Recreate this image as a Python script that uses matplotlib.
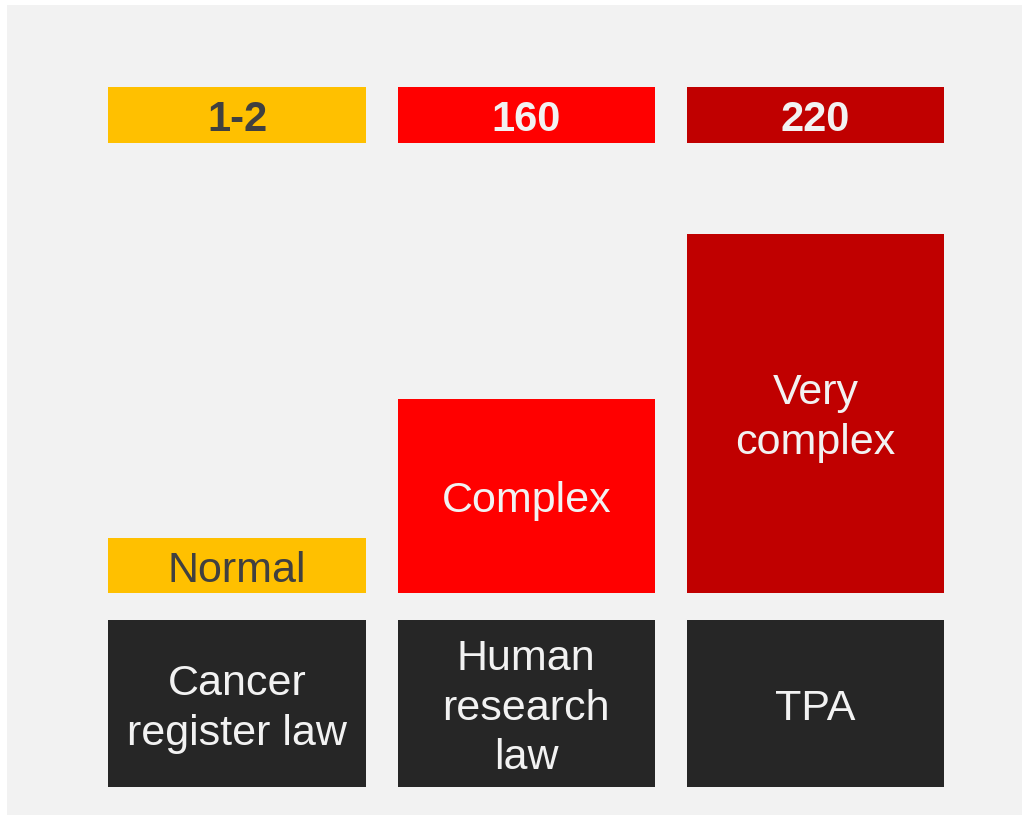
import matplotlib.pyplot as plt
from matplotlib.patches import Rectangle

plt.rcParams['font.family'] = ['Liberation Sans', 'DejaVu Sans']

laws = ['Cancer\nregister law', 'Human\nresearch\nlaw', 'TPA']
levels = ['Normal', 'Complex', 'Very\ncomplex']
counts = ['1-2', '160', '220']
complexity = [1.0, 3.5, 6.5]
colors = ['#FFC000', '#FF0000', '#C00000']
count_text = ['#404040', '#F2F2F2', '#F2F2F2']
level_text = ['#404040', '#F2F2F2', '#F2F2F2']

fig = plt.figure(figsize=(10.28, 8.17), dpi=100)
fig.patch.set_facecolor('white')
fig.patches.append(Rectangle((7 / 1028, 2 / 817), 1015 / 1028, 810 / 817,
                             transform=fig.transFigure, facecolor='#F2F2F2',
                             edgecolor='none', zorder=-10))

ax = fig.add_axes([0, 0, 1, 1])
ax.set_facecolor('none')
x = list(range(len(laws)))
w = 0.89
unit = 55.3  # pixels per unit

# complexity bars
ax.bar(x, complexity, width=w, color=colors, zorder=2)
for i, h in enumerate(complexity):
    ax.text(i, h / 2 - (0.1 if i == 0 else 0.08), levels[i], ha='center', va='center',
            fontsize=31, color=level_text[i], linespacing=1.32, zorder=3)

# count boxes on top
ax.bar(x, [1.01] * 3, bottom=8.14, width=w, color=colors, zorder=2)
for i, c in enumerate(counts):
    ax.text(i, 8.14 + 0.41, c, ha='center', va='center', fontsize=30,
            fontweight='bold', color=count_text[i], zorder=3)

# law boxes below
ax.bar(x, [3.02] * 3, bottom=-3.51, width=w, color='#262626', zorder=2)
for i, law in enumerate(laws):
    ax.text(i, -2.09, law, ha='center', va='center', fontsize=31,
            color='#F2F2F2', linespacing=1.32, zorder=3)

ax.set_xlim(-237 / 289.25, 2 + (1028 - 815.5) / 289.25)
ax.set_ylim(-224 / unit, 593 / unit)
ax.axis('off')

fig.savefig('out.png', dpi=100)
